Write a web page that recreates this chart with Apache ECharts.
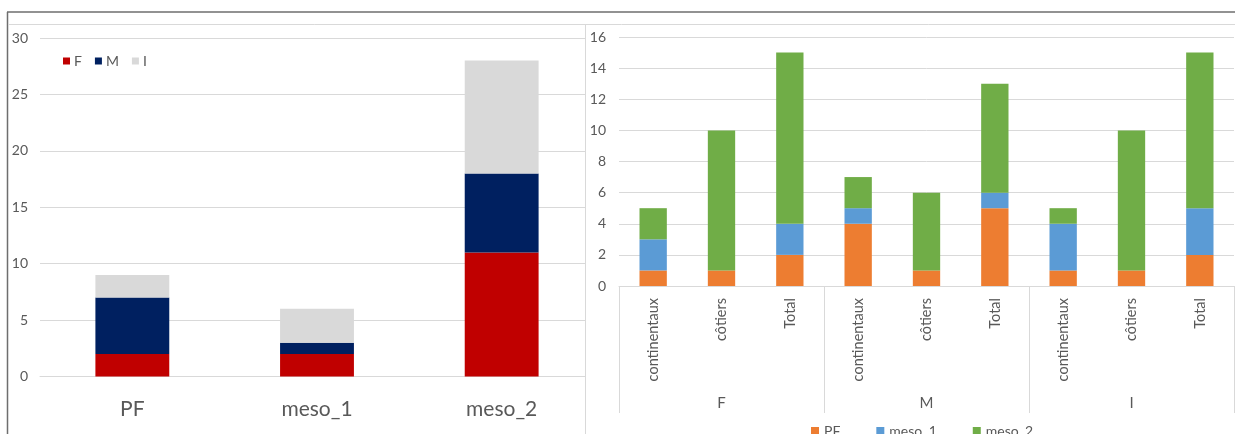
<!DOCTYPE html>
<html>
<head>
<meta charset="utf-8">
<script src="https://cdn.jsdelivr.net/npm/echarts@6/dist/echarts.min.js"></script>
<style>
html,body{margin:0;padding:0;background:#fff;}
#c{width:1235px;height:434px;}
</style>
</head>
<body>
<div id="c"></div>
<script>
// ---- Left chart data ----
const leftCategories = ['PF', 'meso_1', 'meso_2'];
const leftF = [2, 2, 11];
const leftM = [5, 1, 7];
const leftI = [2, 3, 10];
const leftTicks = { min: 0, max: 30, interval: 5 };

// ---- Right chart data ----
const rightSub = ['continentaux', 'côtiers', 'Total', 'continentaux', 'côtiers', 'Total', 'continentaux', 'côtiers', 'Total'];
const rightGroups = ['F', 'M', 'I'];
const rightPF = [1, 1, 2, 4, 1, 5, 1, 1, 2];
const rightMeso1 = [2, 0, 2, 1, 0, 1, 3, 0, 3];
const rightMeso2 = [2, 9, 11, 2, 5, 7, 1, 9, 10];
const rightTicks = { min: 0, max: 16, interval: 2 };

const FONT = 'Lato';
const TXT = '#595959';
const GRID = '#d9d9d9';

const chart = echarts.init(document.getElementById('c'), null, { renderer: 'canvas' });

const option = {
  backgroundColor: '#ffffff',
  animation: false,
  textStyle: { fontFamily: FONT, color: TXT },
  grid: [
    { left: 40, top: 38, width: 554, height: 338.5, containLabel: false },
    { left: 619, top: 37, width: 615, height: 249, containLabel: false }
  ],
  legend: [
    {
      left: 58, top: 49, itemWidth: 7, itemHeight: 7, itemGap: 13,
      icon: 'rect',
      data: ['F', 'M', 'I'],
      textStyle: { fontFamily: FONT, fontSize: 14, color: TXT, padding: [0, 0, 0, -1] }
    },
    {
      left: 806, top: 419, itemWidth: 8, itemHeight: 8, itemGap: 36,
      icon: 'rect',
      data: ['PF', 'meso_1', 'meso_2'],
      textStyle: { fontFamily: FONT, fontSize: 14, color: TXT }
    }
  ],
  xAxis: [
    {
      type: 'category', gridIndex: 0, data: leftCategories,
      axisLine: { lineStyle: { color: GRID } },
      axisTick: { show: false },
      axisLabel: { fontFamily: FONT, fontSize: 21, color: TXT, margin: 22 }
    },
    {
      type: 'category', gridIndex: 1, data: rightSub, z: 3,
      axisLine: { lineStyle: { color: GRID } },
      axisTick: { show: false },
      axisLabel: { fontFamily: FONT, fontSize: 14.5, color: TXT, rotate: 90, margin: 12, interval: 0 }
    },
    {
      type: 'category', gridIndex: 1, data: rightGroups, position: 'bottom', z: 3,
      axisLine: { show: false },
      axisTick: { show: true, length: 127, interval: 0, lineStyle: { color: GRID } },
      axisLabel: { fontFamily: FONT, fontSize: 15, color: TXT, margin: 110, interval: 0 }
    }
  ],
  yAxis: [
    {
      type: 'value', gridIndex: 0, min: leftTicks.min, max: leftTicks.max, interval: leftTicks.interval,
      axisLine: { show: false }, axisTick: { show: false },
      splitLine: { lineStyle: { color: GRID } },
      axisLabel: { fontFamily: FONT, fontSize: 14, color: TXT, margin: 12 }
    },
    {
      type: 'value', gridIndex: 1, min: rightTicks.min, max: rightTicks.max, interval: rightTicks.interval, z: 3,
      axisLine: { show: false }, axisTick: { show: false },
      splitLine: { lineStyle: { color: GRID } },
      axisLabel: { fontFamily: FONT, fontSize: 14, color: TXT, margin: 13 }
    }
  ],
  series: [
    { name: 'F', type: 'bar', stack: 'L', xAxisIndex: 0, yAxisIndex: 0, data: leftF, barWidth: '40%', itemStyle: { color: '#C00000' } },
    { name: 'M', type: 'bar', stack: 'L', xAxisIndex: 0, yAxisIndex: 0, data: leftM, barWidth: '40%', itemStyle: { color: '#002060' } },
    { name: 'I', type: 'bar', stack: 'L', xAxisIndex: 0, yAxisIndex: 0, data: leftI, barWidth: '40%', itemStyle: { color: '#D9D9D9' } },
    { name: 'PF', type: 'bar', stack: 'R', xAxisIndex: 1, yAxisIndex: 1, data: rightPF, barWidth: '40%', z: 4, itemStyle: { color: '#ED7D31' } },
    { name: 'meso_1', type: 'bar', stack: 'R', xAxisIndex: 1, yAxisIndex: 1, data: rightMeso1, barWidth: '40%', z: 4, itemStyle: { color: '#5B9BD5' } },
    { name: 'meso_2', type: 'bar', stack: 'R', xAxisIndex: 1, yAxisIndex: 1, data: rightMeso2, barWidth: '40%', z: 4, itemStyle: { color: '#70AD47' } }
  ],
  graphic: [
    { type: 'rect', z: 1, shape: { x: 586, y: 25, width: 32, height: 409 }, style: { fill: '#ffffff' }, silent: true },
    { type: 'line', z: 5, shape: { x1: 7, y1: 12, x2: 1235, y2: 12 }, style: { stroke: '#6e6e6e', lineWidth: 1.5 }, silent: true },
    { type: 'line', z: 5, shape: { x1: 7.5, y1: 12, x2: 7.5, y2: 434 }, style: { stroke: '#6e6e6e', lineWidth: 1.5 }, silent: true },
    { type: 'line', z: 5, shape: { x1: 8, y1: 24.5, x2: 1235, y2: 24.5 }, style: { stroke: GRID, lineWidth: 1 }, silent: true },
    { type: 'line', z: 5, shape: { x1: 585.5, y1: 24, x2: 585.5, y2: 434 }, style: { stroke: GRID, lineWidth: 1 }, silent: true }
  ]
};

chart.setOption(option);
</script>
</body>
</html>
